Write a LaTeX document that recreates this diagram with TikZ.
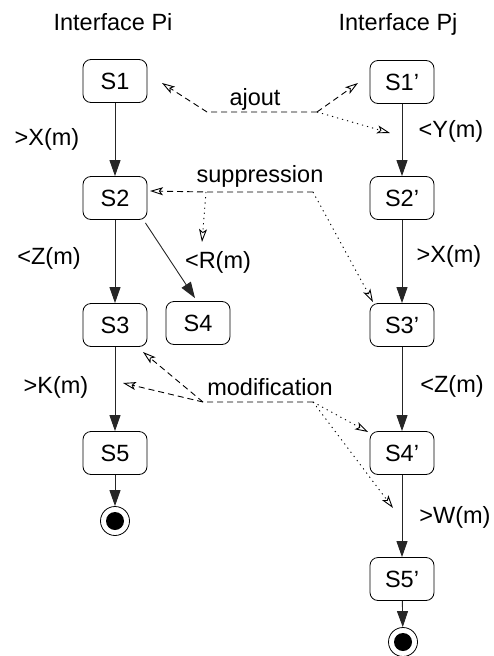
\documentclass[tikz,border=0pt]{standalone}
\usepackage{fontspec}
\setmainfont{Liberation Sans}
\usetikzlibrary{arrows.meta}

\begin{document}
\begin{tikzpicture}[x=1pt,y=-1pt,
  etat/.style={draw,rounded corners=8pt,minimum width=64pt,minimum height=43pt,
    inner sep=0pt,line width=0.8pt,font=\fontsize{23.5}{26}\selectfont},
  fin/.style={draw,circle,minimum size=29pt,inner sep=0pt,line width=0.8pt},
  lbl/.style={anchor=base,inner sep=0pt,font=\fontsize{23.5}{26}\selectfont},
  trans/.style={-{Triangle[length=16pt,width=11pt]},line width=0.9pt,black!85},
  lien/.style={dash pattern=on 6pt off 4pt,line width=0.9pt},
  pts/.style={dash pattern=on 1.2pt off 4pt,line width=0.9pt},
  pointe/.style={-{Stealth[open,length=13pt,width=8pt,inset=3pt]}}]
\useasboundingbox (0,0) rectangle (494,656);

% titres
\node[lbl] (titreA) at (113,30) {Interface Pi};
\node[lbl] (titreB) at (398,30) {Interface Pj};

% interface Pi
\node[etat] (S1) at (115,81) {S1};
\node[etat] (S2) at (115,198) {S2};
\node[etat] (S3) at (115,325) {S3};
\node[etat] (S4) at (198,323) {S4};
\node[etat] (S5) at (115,453) {S5};
\node[fin] (finA) at (115,521) {};
\fill (finA.center) circle (9pt);

\draw[trans] (S1) -- (S2);
\draw[trans] (S2) -- (S3);
\draw[trans] ([xshift=-2pt,yshift=-3pt]S2.south east) -- ([xshift=-3pt,yshift=3pt]S4.north);
\draw[trans] (S3) -- (S5);
\draw[trans] (S5) -- (finA);

\node[lbl] (eX) at (47,145) {>X(m)};
\node[lbl] (eZ) at (49,264) {<Z(m)};
\node[lbl] (eR) at (218,268) {<R(m)};
\node[lbl] (eK) at (56,393) {>K(m)};

% interface Pj
\node[etat] (S1b) at (402,82) {S1’};
\node[etat] (S2b) at (402,198) {S2’};
\node[etat] (S3b) at (402,325) {S3’};
\node[etat] (S4b) at (402,453) {S4’};
\node[etat] (S5b) at (402,579) {S5’};
\node[fin] (finB) at (403,642) {};
\fill (finB.center) circle (9pt);

\draw[trans] (S1b) -- (S2b);
\draw[trans] (S2b) -- (S3b);
\draw[trans] (S3b) -- (S4b);
\draw[trans] (S4b) -- (S5b);
\draw[trans] (S5b) -- (finB);

\node[lbl] (fY) at (451,137) {<Y(m)};
\node[lbl] (fX) at (449,262) {>X(m)};
\node[lbl] (fZ) at (452,392) {<Z(m)};
\node[lbl] (fW) at (455,523) {>W(m)};

% ajout
\coordinate (jA) at (207,112);
\coordinate (jB) at (317,112);
\coordinate (tA1) at (162,83);
\coordinate (tA2) at (358,83);
\coordinate (tA3) at (390,133);
\node[lbl] (ajout) at (255,105) {ajout};
\draw[lien,pointe] (jB) -- (jA) -- (tA1);
\draw[lien,pointe] (jB) -- (tA2);
\draw[pts,pointe] (jB) -- (tA3);

% suppression
\coordinate (jS1) at (206,192);
\coordinate (jS2) at (313,192);
\coordinate (tS1) at (150,191);
\coordinate (tS2) at (202,242);
\coordinate (tS3) at (373,302);
\node[lbl] (suppr) at (260,182) {suppression};
\draw[lien,pointe] (jS2) -- (jS1) -- (tS1);
\draw[pts,pointe] (jS1) -- (tS2);
\draw[pts,pointe] (jS2) -- (tS3);

% modification
\coordinate (jM1) at (203,402);
\coordinate (jM2) at (313,402);
\coordinate (tM1) at (143,352);
\coordinate (tM2) at (123,383);
\coordinate (tM3) at (368,432);
\coordinate (tM4) at (393,508);
\node[lbl] (modif) at (270,395) {modification};
\draw[lien,pointe] (jM2) -- (jM1) -- (tM1);
\draw[lien,pointe] (jM1) -- (tM2);
\draw[pts,pointe] (jM2) -- (tM3);
\draw[pts,pointe] (jM2) -- (tM4);

\end{tikzpicture}
\end{document}
